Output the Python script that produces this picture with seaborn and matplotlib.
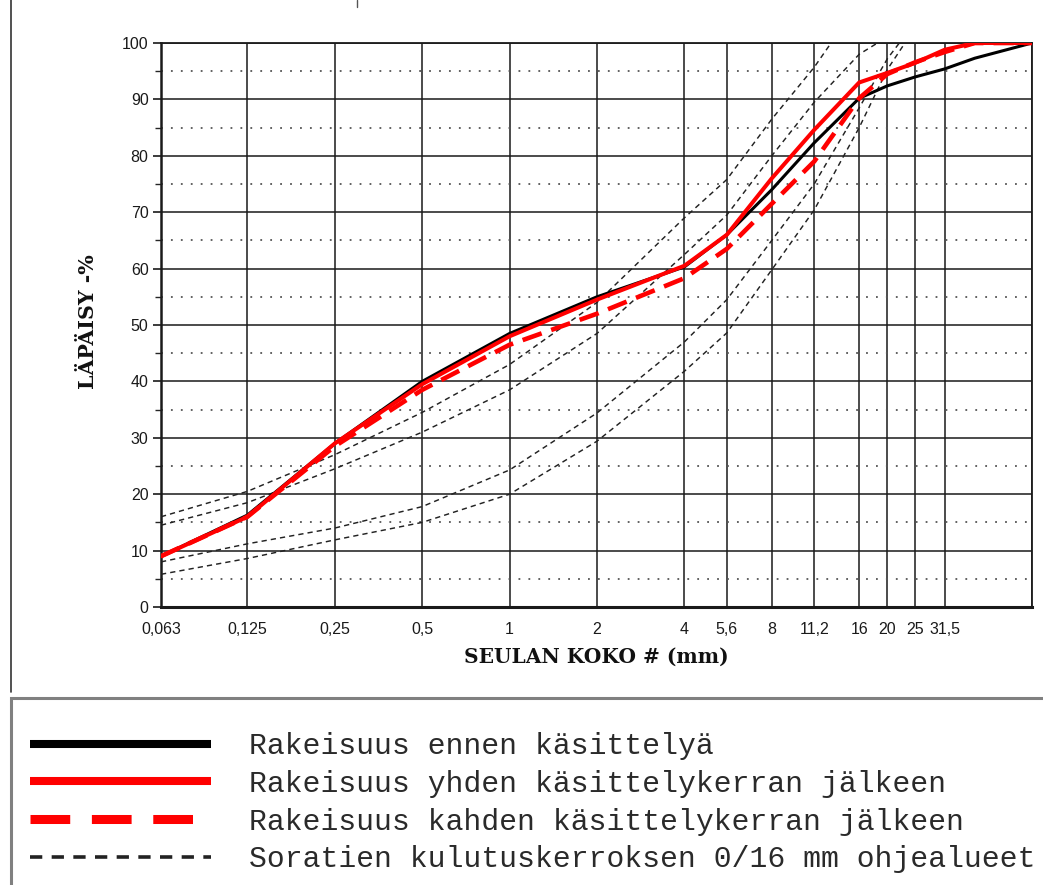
import matplotlib
matplotlib.use("Agg")
import matplotlib.pyplot as plt
import seaborn as sns
from matplotlib.lines import Line2D
from matplotlib.patches import Rectangle
from matplotlib.ticker import FixedLocator, NullLocator, MultipleLocator

# ---------------- data ----------------
sieve_ticks = [0.063, 0.125, 0.25, 0.5, 1, 2, 4, 5.6, 8, 11.2, 16, 20, 25, 31.5]
sieve_labels = ["0,063", "0,125", "0,25", "0,5", "1", "2", "4", "5,6", "8",
                "11,2", "16", "20", "25", "31,5"]
x_max = 63

sizes = [0.063, 0.125, 0.25, 0.5, 1, 2, 4, 5.6, 8, 11.2, 16, 20, 25, 31.5, 40, 63]
before = [9, 16.3, 29, 40, 48.5, 55, 60.3, 66, 74, 82.3, 90.2, 92.4, 94, 95.4, 97.3, 100]
once = [9, 16, 29, 39.5, 48, 54.5, 60.5, 66, 76, 84.6, 93, 94.7, 96.5, 98.8, 100, 100]
twice = [9, 16, 28.5, 38.5, 46.5, 52, 58.3, 63.5, 71.5, 79, 90.2, 94.5, 96.6, 98.4, 100, 100]

u1_x = [0.063, 0.125, 0.25, 0.5, 1, 2, 4, 5.6, 8, 11.2, 12.8]
u1_y = [16, 20.5, 27, 34.5, 43, 54, 69, 75.8, 86.5, 95.7, 100]
u2_x = [0.063, 0.125, 0.25, 0.5, 1, 2, 4, 5.6, 8, 11.2, 16, 18.5]
u2_y = [14.5, 18.5, 24.5, 31, 38.5, 48.5, 62.5, 69.5, 80, 89.5, 98, 100]
l1_x = [0.063, 0.125, 0.25, 0.5, 1, 2, 4, 5.6, 8, 11.2, 16, 20, 22]
l1_y = [8, 11.2, 14, 17.8, 24.3, 34.4, 47, 54.5, 65, 75, 88.5, 97.2, 100]
l2_x = [0.063, 0.125, 0.25, 0.5, 1, 2, 4, 5.6, 8, 11.2, 16, 20, 23]
l2_y = [5.8, 8.6, 11.9, 15, 20, 29.4, 41.8, 48.6, 59.8, 70.4, 85, 95.3, 100]
envelopes = [(u1_x, u1_y), (u2_x, u2_y), (l1_x, l1_y), (l2_x, l2_y)]

legend_labels = ["Rakeisuus ennen käsittelyä",
                 "Rakeisuus yhden käsittelykerran jälkeen",
                 "Rakeisuus kahden käsittelykerran jälkeen",
                 "Soratien kulutuskerroksen 0/16 mm ohjealueet"]

y_label = "LÄPÄISY -%"
x_label = "SEULAN KOKO # (mm)"

# ---------------- style ----------------
sns.set_style("white")
plt.rcParams["font.family"] = ["Liberation Sans", "DejaVu Sans"]

W, H = 1043, 885
fig = plt.figure(figsize=(W / 100, H / 100), dpi=100)
ax = fig.add_axes([161 / W, (H - 607) / H, 871 / W, 564 / H])
ax.set_xscale("log", base=2)

red = "#ff0000"
env_color = "#222222"
for ex, ey in envelopes:
    sns.lineplot(x=ex, y=ey, ax=ax, color=env_color, linewidth=1.05,
                 linestyle=(0, (3.6, 2.8)), zorder=3)
sns.lineplot(x=sizes, y=before, ax=ax, color="black", linewidth=2.2, zorder=4)
sns.lineplot(x=sizes, y=once, ax=ax, color=red, linewidth=2.9, zorder=5)
sns.lineplot(x=sizes, y=twice, ax=ax, color=red, linewidth=3.3,
             linestyle=(0, (4.4, 2.2)), zorder=6)

ax.set_xlim(sieve_ticks[0], x_max)
ax.set_ylim(0, 100)
ax.xaxis.set_major_locator(FixedLocator(sieve_ticks + [x_max]))
ax.xaxis.set_minor_locator(NullLocator())
ax.set_xticklabels(sieve_labels + [""])
ax.yaxis.set_major_locator(MultipleLocator(10))
ax.yaxis.set_minor_locator(FixedLocator(list(range(5, 100, 10))))

ax.set_axisbelow(True)
ax.grid(which="major", axis="both", color="#1a1a1a", linewidth=1.1, linestyle="-")
ax.grid(which="minor", axis="y", color="#555555", linewidth=1.3, linestyle=(0, (1, 4.5)))

for s in ax.spines.values():
    s.set_color("#1a1a1a")
    s.set_linewidth(1.3)
    s.set_visible(True)
ax.spines["bottom"].set_linewidth(2.2)
ax.spines["left"].set_linewidth(1.8)

ax.tick_params(axis="x", which="both", length=0, pad=11, labelsize=11.5, colors="#1a1a1a")
ax.tick_params(axis="y", which="major", length=6, width=1.2, pad=3, labelsize=11.5,
               colors="#1a1a1a", left=True)
ax.tick_params(axis="y", which="minor", length=4, width=1.0, left=True)

ax.set_xlabel(x_label, fontfamily="DejaVu Serif", fontweight="bold", fontsize=14.5,
              color="#111111")
ax.xaxis.set_label_coords(0.4995, -0.071)
ax.set_ylabel(y_label, fontfamily="DejaVu Serif", fontweight="bold", fontsize=14.8,
              color="#111111")
ax.yaxis.set_label_coords(-0.0725, 0.506)

# ---------------- frames ----------------
fig.add_artist(Line2D([10.5 / W, 10.5 / W], [1, (H - 692) / H], color="#333333",
                      linewidth=1.2, transform=fig.transFigure))
fig.add_artist(Line2D([357 / W, 357 / W], [1, (H - 7) / H], color="#555555",
                      linewidth=1.0, transform=fig.transFigure))
fig.add_artist(Rectangle((11 / W, -0.02), 1.05, (H - 698) / H + 0.02,
                         transform=fig.transFigure, facecolor="white",
                         edgecolor="#808080", linewidth=2.2, zorder=0))

# ---------------- legend ----------------
handles = [
    Line2D([], [], color="black", linewidth=5.8, solid_capstyle="butt"),
    Line2D([], [], color=red, linewidth=5.8, solid_capstyle="butt"),
    Line2D([], [], color=red, linewidth=6.5, linestyle=(0, (4.4, 2.4)),
           dash_capstyle="butt"),
    Line2D([], [], color="#222222", linewidth=2.6, linestyle=(0, (3.4, 2.6)),
           dash_capstyle="butt"),
]
leg = fig.legend(handles, legend_labels, loc="upper left",
                 bbox_to_anchor=(30 / W, (H - 732) / H),
                 frameon=False, borderpad=0, borderaxespad=0,
                 handlelength=6.1, handletextpad=1.26, labelspacing=0.33,
                 prop={"family": "Liberation Mono", "size": 21.4})
for t in leg.get_texts():
    t.set_color("#2a2a2a")

fig.savefig("out.png", dpi=100, facecolor="white")
